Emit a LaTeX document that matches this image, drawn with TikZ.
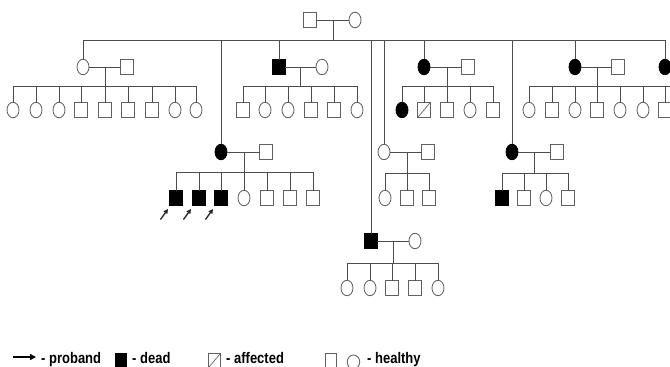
\documentclass[tikz,border=0pt]{standalone}
\usepackage{fontspec}
\setmainfont{Liberation Sans}
\usetikzlibrary{shapes.geometric,arrows.meta,calc}
\newcommand{\legtext}[1]{\scalebox{1}[1.18]{\bfseries\fontsize{13}{13}\selectfont #1}}
\begin{document}
\begin{tikzpicture}[x=1pt,y=-1pt,
  ln/.style={draw=black!70, line width=0.85pt},
  ind/.style={draw=black!62, line width=0.85pt, inner sep=0pt, outer sep=0pt},
  ml/.style={ind, rectangle, minimum width=12.5pt, minimum height=15pt},
  fe/.style={ind, ellipse, minimum width=12pt, minimum height=15.5pt},
  mld/.style={ml, fill=black, draw=black},
  fed/.style={fe, fill=black, draw=black},
  aff/.style={ml, path picture={\draw[black!60, line width=0.7pt] (path picture bounding box.south west) -- (path picture bounding box.north east);}},
  prob/.style={-{Triangle[length=4.5pt,width=4.5pt]}, draw=black!85, fill=black!85, line width=1.3pt},
  leg/.style={inner sep=0pt, anchor=base west},
]
\useasboundingbox (0,0) rectangle (670,367);
\clip (0,0) rectangle (670,367);

% ---------- generation I ----------
\node[ml] (P1m) at (310,20) {};
\node[fe] (P1f) at (355,20) {};
\coordinate (c0) at (333,20);
\coordinate (s0) at (333,40);

% ---------- generation II ----------
\node[fe]  (A1) at (83,67) {};   \node[ml] (A1s) at (127,67) {};
\node[fed] (B1) at (221,152) {}; \node[ml] (B1s) at (266,152) {};
\node[mld] (C1) at (279,67) {};  \node[fe] (C1s) at (322,67) {};
\node[mld] (D1) at (371,241) {}; \node[fe] (D1s) at (415,241) {};
\node[fe]  (E1) at (384,152) {}; \node[ml] (E1s) at (428,152) {};
\node[fed] (F1) at (424,67) {};  \node[ml] (F1s) at (468,67) {};
\node[fed] (G1) at (512,152) {}; \node[ml] (G1s) at (557,152) {};
\node[fed] (H1) at (575,67) {};  \node[ml] (H1s) at (618,67) {};
\node[fed] (I1) at (665,67) {};

% ---------- generation III ----------
% family A
\node[fe] (A01) at (13,110) {};
\node[fe] (A02) at (36,110) {};
\node[fe] (A03) at (59,110) {};
\node[ml] (A04) at (81,110) {};
\node[ml] (A05) at (105,110) {};
\node[ml] (A06) at (128,110) {};
\node[ml] (A07) at (152,110) {};
\node[fe] (A08) at (175,110) {};
\node[fe] (A09) at (196,110) {};
\coordinate (cA) at (105,67); \coordinate (sA) at (105,86);
% family B
\node[mld] (B01) at (176,198) {};
\node[mld] (B02) at (199,198) {};
\node[mld] (B03) at (221,198) {};
\node[fe]  (B04) at (244,198) {};
\node[ml]  (B05) at (267,198) {};
\node[ml]  (B06) at (290,198) {};
\node[ml]  (B07) at (313,198) {};
\coordinate (cB) at (244,152); \coordinate (sB) at (244,172);
% family C
\node[ml] (C01) at (243,110) {};
\node[fe] (C02) at (265,110) {};
\node[fe] (C03) at (288,110) {};
\node[ml] (C04) at (311,110) {};
\node[ml] (C05) at (334,110) {};
\node[fe] (C06) at (357,110) {};
\coordinate (cC) at (300,67); \coordinate (sC) at (300,86);
% family D
\node[fe] (D01) at (347,288) {};
\node[fe] (D02) at (370,288) {};
\node[ml] (D03) at (392,288) {};
\node[ml] (D04) at (415,288) {};
\node[fe] (D05) at (438,288) {};
\coordinate (cD) at (393,241); \coordinate (sD) at (393,263);
% family E
\node[fe] (E01) at (385,198) {};
\node[ml] (E02) at (407,198) {};
\node[ml] (E03) at (429,198) {};
\coordinate (cE) at (407,152); \coordinate (sE) at (407,173);
% family F
\node[fed] (F01) at (402,110) {};
\node[aff] (F02) at (424,110) {};
\node[ml]  (F03) at (447,110) {};
\node[fe]  (F04) at (470,110) {};
\node[ml]  (F05) at (493,110) {};
\coordinate (cF) at (447,67); \coordinate (sF) at (447,86);
% family G
\node[mld] (G01) at (502,198) {};
\node[ml]  (G02) at (524,198) {};
\node[fe]  (G03) at (546,198) {};
\node[ml]  (G04) at (568,198) {};
\coordinate (cG) at (534,152); \coordinate (sG) at (534,173);
% family H
\node[fe] (H01) at (529,110) {};
\node[ml] (H02) at (552,110) {};
\node[fe] (H03) at (575,110) {};
\node[ml] (H04) at (597,110) {};
\node[fe] (H05) at (620,110) {};
\node[fe] (H06) at (643,110) {};
\node[ml] (H07) at (665,110) {};
\coordinate (cH) at (597,67); \coordinate (sH) at (597,86);

% ---------- connectors ----------
\begin{scope}[ln]
% generation I
\draw (P1m) -- (P1f);
\draw (c0) -- (s0);
\draw (A1 |- s0) -- (I1 |- s0);
\foreach \n in {A1,B1,C1,D1,E1,F1,G1,H1,I1} \draw (\n) -- (\n |- s0);
% couples and sibships
\foreach \p/\s/\c/\b/\first/\last/\kids in {
   A1/A1s/cA/sA/A01/A09/{A01,A02,A03,A04,A05,A06,A07,A08,A09},
   B1/B1s/cB/sB/B01/B07/{B01,B02,B03,B04,B05,B06,B07},
   C1/C1s/cC/sC/C01/C06/{C01,C02,C03,C04,C05,C06},
   D1/D1s/cD/sD/D01/D05/{D01,D02,D03,D04,D05},
   E1/E1s/cE/sE/E01/E03/{E01,E02,E03},
   F1/F1s/cF/sF/F01/F05/{F01,F02,F03,F04,F05},
   G1/G1s/cG/sG/G01/G04/{G01,G02,G03,G04},
   H1/H1s/cH/sH/H01/H07/{H01,H02,H03,H04,H05,H06,H07}} {
  \draw (\p) -- (\s);
  \draw (\c) -- (\b);
  \draw (\first |- \b) -- (\last |- \b);
  \foreach \k in \kids \draw (\k) -- (\k |- \b);
}
\coordinate (sHend) at (672,86);
\draw (H07 |- sH) -- (sHend);
\end{scope}

% proband arrows
\foreach \k in {B01,B02,B03} {
  \coordinate (\k t) at ($(\k)+(-15.5,21.5)$);
  \coordinate (\k h) at ($(\k)+(-8,11)$);
  \draw[prob] (\k t) -- (\k h);
}

% ---------- legend ----------
\coordinate (La) at (13,357);
\coordinate (Lb) at (36,357);
\draw[-{Triangle[length=6pt,width=6pt]}, line width=1.6pt, black] (La) -- (Lb);
\node[leg] (Lt1) at (41,363) {\legtext{- proband}};
\node[mld, minimum width=11.5pt, minimum height=15pt] (Ls1) at (121,360.5) {};
\node[leg] (Lt2) at (132,363) {\legtext{- dead}};
\node[aff, minimum width=12.5pt] (Ls2) at (214.5,360.5) {};
\node[leg] (Lt3) at (226,363) {\legtext{- affected}};
\node[ml, minimum width=11.5pt] (Ls3) at (331,360.5) {};
\node[fe, minimum width=12.5pt, minimum height=14pt] (Ls4) at (353.5,362) {};
\node[leg] (Lt4) at (367,363) {\legtext{- healthy}};
\end{tikzpicture}
\end{document}
